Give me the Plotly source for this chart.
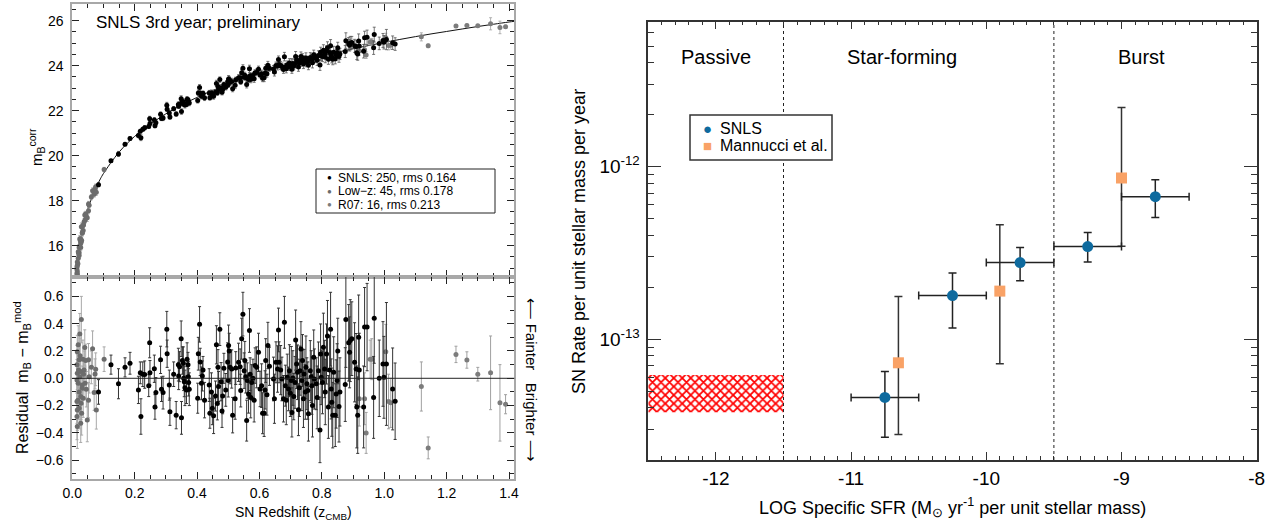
import plotly.graph_objects as go

# ---------------- Left panels: SNLS 3rd year Hubble diagram ----------------
SNLS_Z = [0.084, 0.124, 0.148, 0.169, 0.185, 0.212, 0.218, 0.220, 0.226, 0.232,
          0.245, 0.248, 0.249, 0.263, 0.265, 0.268, 0.283, 0.286, 0.291, 0.303,
          0.304, 0.311, 0.313, 0.325, 0.333, 0.340, 0.341, 0.344, 0.349, 0.350,
          0.353, 0.356, 0.357, 0.359, 0.361, 0.366, 0.368, 0.371, 0.372, 0.373,
          0.375, 0.402, 0.404, 0.408, 0.410, 0.414, 0.417, 0.419, 0.424, 0.439,
          0.441, 0.446, 0.449, 0.453, 0.459, 0.462, 0.465, 0.467, 0.469, 0.473,
          0.477, 0.480, 0.482, 0.486, 0.492, 0.498, 0.500, 0.501, 0.503, 0.506,
          0.511, 0.514, 0.522, 0.524, 0.533, 0.538, 0.540, 0.543, 0.547, 0.551,
          0.553, 0.556, 0.559, 0.561, 0.565, 0.568, 0.570, 0.572, 0.575, 0.579,
          0.583, 0.586, 0.591, 0.597, 0.602, 0.607, 0.610, 0.615, 0.618, 0.620,
          0.624, 0.627, 0.632, 0.645, 0.648, 0.653, 0.658, 0.661, 0.663, 0.668,
          0.672, 0.677, 0.680, 0.683, 0.686, 0.689, 0.693, 0.696, 0.699, 0.702,
          0.704, 0.707, 0.710, 0.714, 0.716, 0.719, 0.722, 0.725, 0.728, 0.730,
          0.733, 0.736, 0.738, 0.741, 0.743, 0.747, 0.749, 0.752, 0.755, 0.757,
          0.763, 0.766, 0.768, 0.770, 0.774, 0.776, 0.782, 0.785, 0.789, 0.794,
          0.796, 0.798, 0.802, 0.805, 0.809, 0.811, 0.815, 0.818, 0.821, 0.825,
          0.828, 0.830, 0.832, 0.835, 0.838, 0.843, 0.846, 0.849, 0.851, 0.855,
          0.858, 0.875, 0.877, 0.886, 0.889, 0.891, 0.896, 0.905, 0.910, 0.912,
          0.915, 0.918, 0.920, 0.934, 0.937, 0.945, 0.966, 0.968, 0.984, 0.996,
          0.999, 1.007, 1.027, 1.035]
SNLS_RESID = [-0.10, 0.10, -0.04, 0.08, 0.11, -0.085, 0.04, -0.28, 0.03, 0.027,
              -0.054, 0.26, 0.04, 0.07, -0.21, -0.105, 0.135, -0.08, -0.105, 0.36,
              0.18, -0.05, -0.245, 0.03, -0.27, 0.10, 0.017, 0.085, 0.29, -0.29,
              0.13, 0.11, 0.0, -0.025, -0.07, -0.085, 0.14, 0.10, 0.012, -0.03,
              -0.08, -0.146, 0.18, 0.395, 0.12, -0.037, 0.017, 0.06, -0.16, -0.05,
              -0.256, -0.10, -0.22, -0.275, -0.13, 0.245, -0.185, 0.08, -0.06, 0.36,
              -0.025, -0.24, -0.13, 0.073, -0.085, 0.12, -0.017, 0.24, 0.20, 0.08,
              0.068, -0.27, -0.15, 0.075, 0.117, 0.085, -0.09, 0.29, 0.47, 0.056,
              0.13, 0.012, -0.31, -0.017, -0.115, 0.35, 0.03, -0.14, -0.03, 0.0,
              -0.16, 0.093, 0.08, 0.19, -0.078, -0.054, -0.256, -0.256, -0.085, 0.13,
              -0.12, 0.24, 0.088, -0.005, -0.15, 0.117, 0.068, 0.354, 0.117, 0.06,
              -0.005, -0.15, 0.41, -0.054, -0.16, 0.007, -0.078, 0.056, -0.11, -0.017,
              -0.25, 0.002, -0.134, -0.03, 0.28, 0.105, 0.044, -0.23, -0.07, 0.056,
              0.215, -0.017, 0.13, -0.15, 0.032, -0.10, 0.08, -0.04, -0.09, -0.26,
              0.056, 0.012, -0.054, -0.20, 0.154, -0.005, -0.04, -0.14, 0.056, -0.378,
              0.178, 0.007, -0.03, 0.227, 0.068, -0.10, 0.178, 0.31, -0.21, 0.06,
              0.36, -0.078, -0.175, -0.27, 0.044, -0.27, -0.115, -0.017, 0.20, -0.207,
              -0.10, -0.046, 0.43, 0.26, 0.19, 0.276, 0.29, 0.117, 0.068, -0.21,
              -0.27, 0.30, 0.06, -0.21, 0.375, 0.375, -0.14, 0.44, 0.0, 0.105,
              0.007, 0.105, -0.078, -0.168]
SNLS_MAG = [18.71, 19.77, 20.08, 20.51, 20.76, 20.90, 21.09, 20.80, 21.17, 21.24,
            21.30, 21.64, 21.43, 21.59, 21.33, 21.46, 21.84, 21.65, 21.68, 22.24,
            22.06, 21.90, 21.72, 22.09, 21.85, 22.27, 22.20, 22.29, 22.53, 21.96,
            22.40, 22.40, 22.30, 22.29, 22.25, 22.28, 22.51, 22.49, 22.41, 22.38,
            22.34, 22.45, 22.79, 23.03, 22.77, 22.64, 22.72, 22.77, 22.58, 22.78,
            22.58, 22.78, 22.67, 22.64, 22.82, 23.21, 22.80, 23.07, 22.94, 23.38,
            23.02, 22.82, 22.94, 23.16, 23.04, 23.28, 23.15, 23.41, 23.39, 23.28,
            23.30, 22.97, 23.13, 23.37, 23.46, 23.46, 23.29, 23.68, 23.88, 23.49,
            23.57, 23.47, 23.16, 23.46, 23.39, 23.86, 23.55, 23.39, 23.52, 23.56,
            23.42, 23.69, 23.70, 23.84, 23.59, 23.64, 23.44, 23.46, 23.66, 23.88,
            23.64, 24.02, 23.89, 23.85, 23.72, 24.01, 23.98, 24.27, 24.05, 24.01,
            23.96, 23.83, 24.40, 23.95, 23.86, 24.04, 23.96, 24.12, 23.96, 24.06,
            23.84, 24.10, 23.98, 24.09, 24.41, 24.25, 24.19, 23.94, 24.11, 24.24,
            24.41, 24.19, 24.34, 24.08, 24.26, 24.15, 24.34, 24.23, 24.19, 24.02,
            24.36, 24.32, 24.27, 24.13, 24.49, 24.35, 24.33, 24.24, 24.45, 24.03,
            24.60, 24.43, 24.41, 24.68, 24.53, 24.37, 24.66, 24.80, 24.29, 24.58,
            24.89, 24.45, 24.37, 24.28, 24.60, 24.31, 24.47, 24.58, 24.80, 24.41,
            24.52, 24.63, 25.11, 24.97, 24.91, 25.00, 25.03, 24.88, 24.85, 24.57,
            24.52, 25.10, 24.87, 24.64, 25.24, 25.26, 24.80, 25.38, 24.99, 25.12,
            25.04, 25.16, 25.02, 24.96]
SNLS_ERR = [0.09, 0.07, 0.11, 0.07, 0.08, 0.10, 0.08, 0.13, 0.09, 0.10,
            0.08, 0.11, 0.09, 0.10, 0.09, 0.11, 0.10, 0.09, 0.12, 0.13,
            0.10, 0.11, 0.10, 0.09, 0.10, 0.12, 0.10, 0.11, 0.13, 0.12,
            0.10, 0.12, 0.09, 0.11, 0.13, 0.10, 0.12, 0.09, 0.11, 0.10,
            0.12, 0.11, 0.12, 0.13, 0.10, 0.12, 0.11, 0.10, 0.13, 0.12,
            0.11, 0.14, 0.12, 0.13, 0.11, 0.14, 0.12, 0.13, 0.11, 0.12,
            0.14, 0.12, 0.13, 0.11, 0.12, 0.14, 0.12, 0.15, 0.13, 0.12,
            0.14, 0.13, 0.15, 0.12, 0.14, 0.13, 0.12, 0.15, 0.16, 0.13,
            0.14, 0.12, 0.15, 0.13, 0.14, 0.16, 0.12, 0.15, 0.13, 0.14,
            0.16, 0.13, 0.15, 0.14, 0.13, 0.16, 0.15, 0.17, 0.14, 0.16,
            0.15, 0.17, 0.14, 0.16, 0.18, 0.15, 0.17, 0.16, 0.15, 0.18,
            0.16, 0.17, 0.19, 0.15, 0.18, 0.17, 0.16, 0.19, 0.17, 0.25,
            0.18, 0.20, 0.17, 0.19, 0.22, 0.18, 0.20, 0.19, 0.21, 0.18,
            0.20, 0.22, 0.19, 0.21, 0.18, 0.20, 0.23, 0.19, 0.21, 0.20,
            0.22, 0.19, 0.21, 0.23, 0.20, 0.22, 0.19, 0.23, 0.21, 0.24,
            0.22, 0.20, 0.23, 0.25, 0.21, 0.24, 0.22, 0.26, 0.23, 0.25,
            0.27, 0.22, 0.25, 0.24, 0.26, 0.23, 0.25, 0.27, 0.24, 0.26,
            0.25, 0.27, 0.35, 0.28, 0.26, 0.30, 0.27, 0.29, 0.26, 0.30,
            0.28, 0.31, 0.27, 0.30, 0.29, 0.32, 0.30, 0.33, 0.28, 0.31,
            0.30, 0.45, 0.30, 0.28]

LOWZ_Z = [0.029, 0.024, 0.019, 0.016, 0.025, 0.022, 0.034, 0.043, 0.040, 0.052,
          0.065, 0.016, 0.027, 0.019, 0.032, 0.041, 0.022, 0.015, 0.018, 0.027,
          0.035, 0.028, 0.016, 0.015, 0.016, 0.027, 0.048, 0.052, 0.073, 0.075,
          0.070, 0.077, 0.102, 0.054, 0.015, 0.024, 0.032, 0.038, 0.015, 0.022,
          0.030, 0.020, 0.036, 0.045, 0.061]
LOWZ_RESID = [0.43, 0.325, 0.245, 0.195, 0.165, 0.135, 0.14, 0.13, 0.225, 0.135,
              0.217, 0.037, 0.05, -0.037, -0.05, -0.037, -0.10, -0.17, -0.16, -0.134,
              -0.146, -0.183, -0.232, -0.28, -0.354, -0.33, -0.305, -0.16, 0.032, 0.066,
              -0.105, -0.232, 0.14, 0.012, -0.012, 0.012, -0.073, 0.06, 0.10, -0.22,
              -0.256, 0.06, 0.03, -0.08, 0.08]
LOWZ_MAG = [16.84, 16.31, 15.73, 15.28, 16.25, 15.93, 16.90, 17.41, 17.36, 17.85,
            18.44, 15.12, 16.30, 15.44, 16.58, 17.14, 15.69, 14.78, 15.20, 16.12,
            16.68, 16.15, 14.85, 14.67, 14.73, 15.92, 17.24, 17.55, 18.52, 18.62,
            18.29, 18.38, 19.39, 17.80, 14.94, 15.99, 16.56, 17.07, 15.05, 15.57,
            16.23, 15.65, 16.92, 17.30, 18.16]
LOWZ_ERR = [0.17, 0.15, 0.14, 0.12, 0.13, 0.12, 0.14, 0.12, 0.13, 0.12,
            0.13, 0.14, 0.12, 0.13, 0.14, 0.12, 0.15, 0.16, 0.14, 0.13,
            0.14, 0.12, 0.15, 0.17, 0.16, 0.14, 0.16, 0.13, 0.11, 0.12,
            0.13, 0.14, 0.09, 0.12, 0.15, 0.13, 0.12, 0.14, 0.14, 0.15,
            0.16, 0.13, 0.12, 0.13, 0.12]

R07_Z = [0.920, 0.937, 0.942, 0.955, 0.960, 1.005, 1.014, 1.021,
         1.119, 1.141, 1.230, 1.265, 1.300, 1.341, 1.371, 1.389]
R07_RESID = [-0.15, -0.15, -0.40, 0.14, 0.14, 0.195, -0.17, -0.18,
             -0.06, -0.51, 0.175, 0.134, 0.03, 0.04, -0.18, -0.19]
R07_MAG = [24.66, 24.71, 24.47, 25.05, 25.06, 25.24, 24.90, 24.91,
           25.28, 24.88, 25.76, 25.79, 25.77, 25.86, 25.70, 25.73]
R07_ERR = [0.20, 0.19, 0.15, 0.14, 0.15, 0.20, 0.20, 0.18,
           0.18, 0.08, 0.06, 0.06, 0.05, 0.27, 0.28, 0.07]

MODEL_Z = [0.013, 0.015, 0.02, 0.025, 0.03, 0.035, 0.04, 0.05, 0.06, 0.07,
           0.08, 0.09, 0.10, 0.15, 0.20, 0.25, 0.30, 0.35, 0.40, 0.45,
           0.50, 0.55, 0.60, 0.65, 0.70, 0.75, 0.80, 0.85, 0.90, 0.95,
           1.00, 1.05, 1.10, 1.15, 1.20, 1.25, 1.30, 1.35, 1.40, 1.417]
MODEL_M = [14.64, 14.95, 15.59, 16.08, 16.49, 16.83, 17.13, 17.63, 18.04, 18.39,
           18.70, 18.97, 19.21, 20.16, 20.86, 21.40, 21.86, 22.25, 22.59, 22.90,
           23.17, 23.43, 23.66, 23.875, 24.07, 24.26, 24.43, 24.60, 24.75, 24.895,
           25.03, 25.165, 25.29, 25.41, 25.52, 25.63, 25.74, 25.84, 25.94, 25.97]

LEFT_LEGEND = ["SNLS: 250, rms 0.164", "Low\u2212z: 45, rms 0.178", "R07: 16, rms 0.213"]

# ---------------- Right panel: SN rate vs specific SFR ----------------
SNLS_SSFR = [-10.75, -10.25, -9.75, -9.25, -8.75]
SNLS_SSFR_ERR = [0.25, 0.25, 0.25, 0.25, 0.25]
SNLS_RATE = [4.6e-14, 1.79e-13, 2.78e-13, 3.44e-13, 6.7e-13]
SNLS_RATE_HI = [6.5e-14, 2.42e-13, 3.4e-13, 4.15e-13, 8.4e-13]
SNLS_RATE_LO = [2.7e-14, 1.16e-13, 2.18e-13, 2.8e-13, 5.07e-13]

MANN_SSFR = [-10.65, -9.9, -9.0]
MANN_RATE = [7.3e-14, 1.9e-13, 8.6e-13]
MANN_RATE_HI = [1.77e-13, 4.6e-13, 2.2e-12]
MANN_RATE_LO = [2.8e-14, 7.2e-14, 3.46e-13]

PASSIVE_SSFR = [-12.5, -11.5]
PASSIVE_RATE = [3.77e-14, 6.2e-14]
REGION_BOUNDS = [-11.5, -9.5]
REGION_NAMES = ["Passive", "Star-forming", "Burst"]
REGION_X = [-12.0, -10.62, -8.85]

XTICK_VALS = [-12, -11, -10, -9, -8]
XTICK_TEXT = ["-12", "-11", "-10", "-9", "-8"]
YTICK_VALS = [1e-13, 1e-12]
YTICK_TEXT = ["10<sup>-13</sup>", "10<sup>-12</sup>"]
YMINOR_VALS = [2e-14, 3e-14, 4e-14, 5e-14, 6e-14, 7e-14, 8e-14, 9e-14,
               2e-13, 3e-13, 4e-13, 5e-13, 6e-13, 7e-13, 8e-13, 9e-13,
               2e-12, 3e-12, 4e-12, 5e-12, 6e-12]

FONT = "Liberation Sans, Arial, Helvetica, sans-serif"
BLUE = "#0e6a9e"
ORANGE = "#f9a266"
W, H = 1284, 524


def px(x):
    return x / W


def py(y):
    return 1 - y / H


fig = go.Figure()

# ---- top-left: magnitudes
fig.add_trace(go.Scatter(x=MODEL_Z, y=MODEL_M, mode="lines", line=dict(color="#111", width=1, shape="spline"),
                         xaxis="x", yaxis="y", showlegend=False, hoverinfo="skip"))
for zz, mm, ee, col, ecol in [(LOWZ_Z, LOWZ_MAG, LOWZ_ERR, "#6c6c6c", "#9a9a9a"),
                              (R07_Z, R07_MAG, R07_ERR, "#7c7c7c", "#a0a0a0"),
                              (SNLS_Z, SNLS_MAG, SNLS_ERR, "#000000", "#555555")]:
    fig.add_trace(go.Scatter(x=zz, y=mm, mode="markers", xaxis="x", yaxis="y", showlegend=False,
                             marker=dict(color=col, size=5),
                             error_y=dict(type="data", array=ee, color=ecol, thickness=0.8, width=1.5)))

# ---- bottom-left: residuals
for zz, rr, ee, col, ecol in [(LOWZ_Z, LOWZ_RESID, LOWZ_ERR, "#6c6c6c", "#a8a8a8"),
                              (R07_Z, R07_RESID, R07_ERR, "#7c7c7c", "#a0a0a0"),
                              (SNLS_Z, SNLS_RESID, SNLS_ERR, "#000000", "#333333")]:
    fig.add_trace(go.Scatter(x=zz, y=rr, mode="markers", xaxis="x2", yaxis="y2", showlegend=False,
                             marker=dict(color=col, size=5),
                             error_y=dict(type="data", array=ee, color=ecol, thickness=1, width=1.5)))

# ---- right panel
fig.add_trace(go.Scatter(
    x=[PASSIVE_SSFR[0], PASSIVE_SSFR[1], PASSIVE_SSFR[1], PASSIVE_SSFR[0], PASSIVE_SSFR[0]],
    y=[PASSIVE_RATE[0], PASSIVE_RATE[0], PASSIVE_RATE[1], PASSIVE_RATE[1], PASSIVE_RATE[0]],
    mode="lines", fill="toself", line=dict(width=0, color="rgba(0,0,0,0)"),
    fillcolor="rgba(255,255,255,0)",
    fillpattern=dict(shape="x", fgcolor="#ff0000", bgcolor="white", size=6, solidity=0.5),
    xaxis="x3", yaxis="y3", showlegend=False, hoverinfo="skip"))

fig.add_trace(go.Scatter(
    x=MANN_SSFR, y=MANN_RATE, mode="markers", xaxis="x3", yaxis="y3", showlegend=False,
    marker=dict(symbol="square", color=ORANGE, size=11),
    error_y=dict(type="data", symmetric=False,
                 array=[h - v for h, v in zip(MANN_RATE_HI, MANN_RATE)],
                 arrayminus=[v - l for l, v in zip(MANN_RATE_LO, MANN_RATE)],
                 color="#333333", thickness=1.5, width=4)))
fig.add_trace(go.Scatter(
    x=SNLS_SSFR, y=SNLS_RATE, mode="markers", xaxis="x3", yaxis="y3", showlegend=False,
    marker=dict(symbol="circle", color=BLUE, size=11),
    error_x=dict(type="data", array=SNLS_SSFR_ERR, color="#222222", thickness=1.5, width=4),
    error_y=dict(type="data", symmetric=False,
                 array=[h - v for h, v in zip(SNLS_RATE_HI, SNLS_RATE)],
                 arrayminus=[v - l for l, v in zip(SNLS_RATE_LO, SNLS_RATE)],
                 color="#222222", thickness=1.5, width=4)))

LEFT_X_DOM = [px(72.3), px(514.3)]
left_axis = dict(showgrid=False, zeroline=False, showline=True, linecolor="#a8a8a8", linewidth=2,
                 mirror="ticks", ticks="inside", tickcolor="#222", tickwidth=1, ticklen=7,
                 automargin=False,
                 tickfont=dict(family=FONT, size=14, color="#000"))

fig.update_layout(
    template="none",
    width=W, height=H, margin=dict(l=0, r=0, t=0, b=0, pad=0, autoexpand=False),
    paper_bgcolor="white", plot_bgcolor="white", showlegend=False,
    font=dict(family=FONT, color="#000"),
    xaxis=dict(domain=LEFT_X_DOM, anchor="y", range=[0, 1.417], dtick=0.2, tick0=0,
               showticklabels=False,
               minor=dict(dtick=0.05, tick0=0, ticks="inside", ticklen=4, tickcolor="#222"), **left_axis),
    yaxis=dict(domain=[py(277), py(4)], anchor="x", range=[14.61, 26.74], dtick=2, tick0=0,
               ticklabelstandoff=4,
               minor=dict(dtick=0.5, tick0=0, ticks="inside", ticklen=4, tickcolor="#222"), **left_axis),
    xaxis2=dict(domain=LEFT_X_DOM, anchor="y2", range=[0, 1.417], dtick=0.2, tick0=0, tickformat=".1f",
                ticklabelstandoff=0,
                minor=dict(dtick=0.05, tick0=0, ticks="inside", ticklen=4, tickcolor="#222"), **left_axis),
    yaxis2=dict(domain=[py(479.3), py(277)], anchor="x2", range=[-0.74, 0.742], dtick=0.2, tick0=0,
                tickformat=".1f", ticklabelstandoff=4,
                minor=dict(dtick=0.1, tick0=0, ticks="inside", ticklen=4, tickcolor="#222"), **left_axis),
    xaxis3=dict(domain=[px(648.3), px(1256.7)], anchor="y3", range=[-12.5, -8],
                tickmode="array", tickvals=XTICK_VALS, ticktext=XTICK_TEXT, automargin=False,
                showgrid=False, zeroline=False, showline=True, linecolor="#333", linewidth=1.5,
                mirror="ticks", ticks="inside", ticklen=8, tickwidth=1.2, tickcolor="#333",
                ticklabelstandoff=0,
                minor=dict(dtick=0.1, tick0=0, ticks="inside", ticklen=4, tickcolor="#333"),
                tickfont=dict(family=FONT, size=19, color="#000")),
    yaxis3=dict(domain=[py(460), py(21.7)], anchor="x3", type="log", range=[-13.7, -11.16],
                tickmode="array", tickvals=YTICK_VALS, ticktext=YTICK_TEXT, automargin=False,
                showgrid=False, zeroline=False, showline=True, linecolor="#333", linewidth=1.5,
                mirror="ticks", ticks="inside", ticklen=13, tickwidth=1.2, tickcolor="#333",
                ticklabelstandoff=3,
                minor=dict(tickmode="array", tickvals=YMINOR_VALS, ticks="inside", ticklen=6, tickcolor="#333"),
                tickfont=dict(family=FONT, size=19, color="#000")),
)

shapes = []
# residual zero line
shapes.append(dict(type="line", xref="x2 domain", yref="y2", x0=0, x1=1, y0=0, y1=0,
                   line=dict(color="#222", width=1)))
# left legend box
shapes.append(dict(type="rect", xref="paper", yref="paper", x0=px(316), x1=px(495), y0=py(213), y1=py(169),
                   line=dict(color="#222", width=1), fillcolor="white", layer="above"))
# region boundaries
for b in REGION_BOUNDS:
    shapes.append(dict(type="line", xref="x3", yref="y3 domain", x0=b, x1=b, y0=0, y1=1,
                       line=dict(color="#222", width=1, dash="dot")))
# right legend box
shapes.append(dict(type="rect", xref="paper", yref="paper", x0=px(690), x1=px(832), y0=py(160), y1=py(115),
                   line=dict(color="#333", width=1.5), fillcolor="white", layer="above"))
fig.update_layout(shapes=shapes)


def note(text, x, y, size, xref="paper", yref="paper", xanchor="center", angle=0, color="#000"):
    return dict(text=text, xref=xref, yref=yref, x=x, y=y, xanchor=xanchor, yanchor="middle",
                textangle=angle, showarrow=False, font=dict(family=FONT, size=size, color=color))


ann = []
ann.append(note("SNLS 3rd year; preliminary", px(94), py(23), 17, xanchor="left"))
ann.append(note("m<sub>B</sub><sup>corr</sup>", px(36), py(147), 15, angle=-90))
ann.append(note("Residual  m<sub>B</sub> \u2212 m<sub>B</sub><sup>mod</sup>", px(22), py(378), 16, angle=-90))
ann.append(note("SN Redshift (z<sub>CMB</sub>)", px(293), py(513), 14))
ann.append(note("\u27f5 Fainter   Brighter \u27f6", px(531.5), py(379), 15, angle=90))
leg_cols = ["#000000", "#6c6c6c", "#7c7c7c"]
leg_y = [177.5, 191.0, 204.5]
for txt, c, yy in zip(LEFT_LEGEND, leg_cols, leg_y):
    ann.append(note("\u25cf", px(330), py(yy), 8, color=c))
    ann.append(note(txt, px(336), py(yy), 12, xanchor="left"))
for name, xx in zip(REGION_NAMES, REGION_X):
    ann.append(note(name, xx, py(57.4), 20, xref="x3"))
ann.append(note("SN Rate per unit stellar mass per year", px(579), py(242), 18, angle=-90))
ann.append(note("LOG Specific SFR (M<sub>\u2299</sub> yr<sup>-1</sup> per unit stellar mass)",
                px(952.5), py(507), 18))
ann.append(note("\u25cf", px(707), py(128.4), 15, color=BLUE))
ann.append(note("\u25a0", px(707), py(146), 15, color=ORANGE))
ann.append(note("SNLS", px(718), py(128.4), 16, xanchor="left"))
ann.append(note("Mannucci et al.", px(718), py(146), 16, xanchor="left"))
fig.update_layout(annotations=ann)

fig.write_html("out.html", config={"displayModeBar": False},
               post_script="document.body.style.margin='0px';document.documentElement.style.margin='0px';")
